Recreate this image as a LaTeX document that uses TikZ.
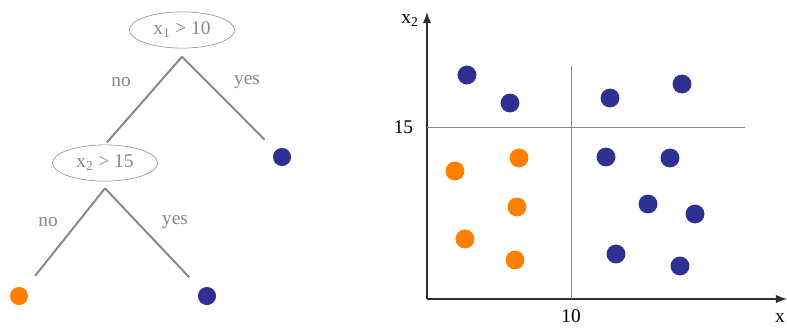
\documentclass[tikz,border=0pt]{standalone}
\usepackage{fontspec}
\setmainfont{Liberation Serif}
\usetikzlibrary{shapes.geometric,arrows.meta}

\definecolor{dotblue}{RGB}{46,49,146}
\definecolor{dotorange}{RGB}{255,127,0}
\definecolor{treegray}{RGB}{135,135,135}
\definecolor{axisgray}{RGB}{45,45,45}

\tikzset{
  test/.style={ellipse, draw=treegray, text=treegray, inner sep=0pt,
    minimum width=2.67cm, minimum height=0.92cm},
  branch/.style={treegray, line width=1.4pt},
  lbl/.style={text=treegray},
  leaf/.style={circle, fill=#1, inner sep=0pt, minimum size=0.46cm},
  pt/.style={circle, fill=#1, inner sep=0pt, minimum size=0.48cm},
  axis/.style={axisgray, line width=0.9pt},
  cut/.style={treegray, line width=0.7pt}
}

\begin{document}
\begin{tikzpicture}[x=0.0254cm, y=-0.0254cm, every node/.style={font=\fontsize{14}{16}\selectfont}]
  \useasboundingbox (0,0) rectangle (787,329);
  % tree
  \node[test] (root) at (182,30) {x\textsubscript{1} > 10};
  \node[test] (split) at (105,163) {x\textsubscript{2} > 15};
  \node[leaf=dotblue] (yes1) at (282,157) {};
  \node[leaf=dotorange] (no2) at (19,296) {};
  \node[leaf=dotblue] (yes2) at (207,296) {};
  \coordinate (fork1) at ([yshift=-6pt]root.south);
  \coordinate (fork2) at ([yshift=-5pt]split.south);
  \draw[branch, shorten >=2pt] (fork1) -- (split.north);
  \draw[branch, shorten >=11pt] (fork1) -- (yes1);
  \draw[branch, shorten >=12pt] (fork2) -- (no2);
  \draw[branch, shorten >=12pt] (fork2) -- (yes2);
  \node[lbl] (no-a) at (121,82) {no};
  \node[lbl] (yes-a) at (247,82) {yes};
  \node[lbl] (no-b) at (48,222) {no};
  \node[lbl] (yes-b) at (175,222) {yes};
  % plot
  \coordinate (O) at (427,299);
  \coordinate (xend) at (787,299);
  \coordinate (yend) at (427,12);
  \draw[axis, -{Latex[length=8pt,width=6pt]}] (O) -- (yend);
  \draw[axis, -{Latex[length=8pt,width=6pt]}] (O) -- (xend);
  \node (xlab) at (780,318) {x};
  \node (ylab) at (410,21) {x\textsubscript{2}};
  \coordinate (h1) at (427,127);
  \coordinate (h2) at (745,127);
  \coordinate (v1) at (571,66);
  \coordinate (v2) at (571,299);
  \draw[cut] (h1) -- (h2);
  \draw[cut] (v1) -- (v2);
  \node[anchor=east] (t15) at (418,127) {15};
  \node (t10) at (571,316) {10};
  \foreach \px/\py [count=\i] in {467/75, 510/103, 610/98, 682/84, 606/157, 670/158, 648/204, 695/214, 616/254, 680/266}
    \node[pt=dotblue] (b\i) at (\px,\py) {};
  \foreach \px/\py [count=\i] in {455/171, 519/158, 517/207, 465/239, 515/260}
    \node[pt=dotorange] (o\i) at (\px,\py) {};
\end{tikzpicture}
\end{document}
